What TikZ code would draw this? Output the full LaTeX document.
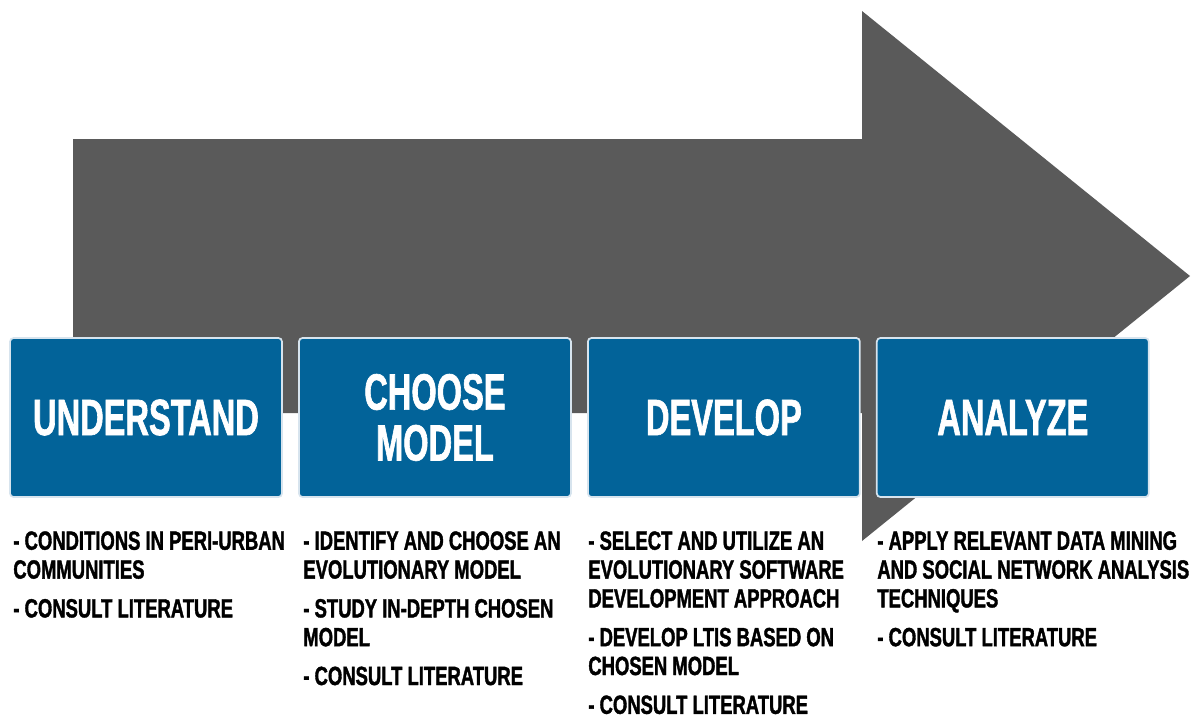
\documentclass[tikz,border=0pt]{standalone}
\usepackage{fontspec}
\usepackage{xcolor}
\usepackage{tikz}
\usetikzlibrary{positioning}
\newfontfamily\stagefont[FakeStretch=0.64, FakeBold=1.2]{Liberation Sans Bold}
\newfontfamily\notefont[FakeStretch=0.70, FakeBold=1.4]{Liberation Sans Bold}
\definecolor{stageblue}{RGB}{2,99,153}
\definecolor{flowgrey}{RGB}{90,90,90}
\definecolor{edgeblue}{RGB}{215,228,238}

\begin{document}
\begin{tikzpicture}[x=0.02cm, y=-0.02cm,
  stagebox/.style={draw=edgeblue, line width=1pt, fill=stageblue, rounded corners=2pt,
    minimum width=5.44cm, minimum height=3.18cm, inner sep=0pt, outer sep=0pt,
    text=white, align=center, font=\stagefont\fontsize{29}{29}\selectfont},
  notes/.style={anchor=north west, inner sep=0pt, align=left,
    font=\notefont\fontsize{15}{16.4}\selectfont}]
\useasboundingbox (0,0) rectangle (1193,717);

% Big arrow
\fill[flowgrey] (73,139) -- (862,139) -- (862,11) -- (1190,276) -- (862,541) -- (862,413) -- (73,413) -- cycle;

% Stage boxes
\node[stagebox] (understand) at (146,417.5) {UNDERSTAND};
\node[stagebox, right=0.34cm of understand] (choose) {CHOOSE\\MODEL};
\node[stagebox, right=0.34cm of choose] (develop) {DEVELOP};
\node[stagebox, right=0.34cm of develop] (analyze) {ANALYZE};

% Notes under the boxes
\node[notes] (understandnotes) at (13,531) {- CONDITIONS IN PERI-URBAN\\COMMUNITIES\\[5.7pt]- CONSULT LITERATURE};
\node[notes] (choosenotes) at (303,531) {- IDENTIFY AND CHOOSE AN\\EVOLUTIONARY MODEL\\[5.7pt]- STUDY IN-DEPTH CHOSEN\\MODEL\\[5.7pt]- CONSULT LITERATURE};
\node[notes] (developnotes) at (588,531) {- SELECT AND UTILIZE AN\\EVOLUTIONARY SOFTWARE\\DEVELOPMENT APPROACH\\[5.7pt]- DEVELOP LTIS BASED ON\\CHOSEN MODEL\\[5.7pt]- CONSULT LITERATURE};
\node[notes] (analyzenotes) at (877,531) {- APPLY RELEVANT DATA MINING\\AND SOCIAL NETWORK ANALYSIS\\TECHNIQUES\\[5.7pt]- CONSULT LITERATURE};
\end{tikzpicture}
\end{document}
